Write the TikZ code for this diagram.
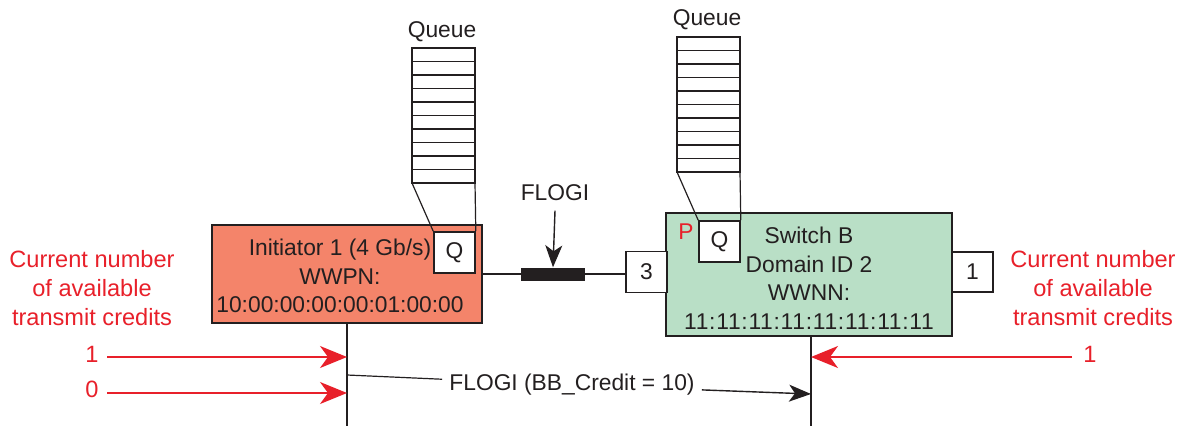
\documentclass[tikz,border=0pt]{standalone}
\usepackage{fontspec}
\setmainfont{Liberation Sans}
\usetikzlibrary{arrows.meta}
\definecolor{salmon}{HTML}{F4846A}
\definecolor{mint}{HTML}{B9DFC6}
\definecolor{cred}{HTML}{E8202A}
\definecolor{ink}{HTML}{231F20}
\begin{document}
\begin{tikzpicture}[x=1pt,y=-1pt,
  font=\fontsize{22.8}{28.5}\selectfont, text=ink,
  bigbox/.style={draw=ink, line width=2.4pt, inner sep=0pt},
  smallbox/.style={draw=ink, line width=1.6pt, fill=white, minimum width=41pt, minimum height=41pt, inner sep=0pt},
  thinline/.style={draw=ink, line width=1.2pt},
  redlbl/.style={text=cred, align=center, font=\fontsize{23.6}{29}\selectfont},
  redarrow/.style={draw=cred, line width=1.6pt, -{Stealth[length=27pt,width=22pt,inset=8pt]}},
  blackarrow/.style={draw=ink, line width=1.4pt, -{Stealth[length=22pt,width=17pt,inset=6pt]}},
  queuecell/.style={draw=ink, line width=1.2pt},
]
\useasboundingbox (0,0) rectangle (1188,426);

% main boxes
\node[bigbox, fill=salmon, minimum width=270pt, minimum height=98pt] (init) at (347,274) {};
\node[bigbox, fill=mint, minimum width=286pt, minimum height=123pt] (sw) at (809,274.5) {};

% texts in boxes
\node[align=center] (inittxt) at (340,276) {Initiator 1 (4 Gb/s)\\WWPN:\\10:00:00:00:00:01:00:00};
\node[align=center] (swtxt) at (809,278) {Switch B\\Domain ID 2\\WWNN:\\{\addfontfeatures{LetterSpace=3.2}11:11:11:11:11:11:11:11}};
\node[text=cred, inner sep=0pt] (P) at (686,232) {P};

% Q boxes and ports
\node[smallbox] (qL) at (454.5,252.5) {Q};
\node[smallbox] (qR) at (719.5,241.5) {Q};
\node[smallbox] (p3) at (646.5,272) {3};
\node[smallbox, minimum height=40pt] (p1) at (972.5,272) {1};

% queues
\draw[queuecell] (412,48) rectangle (475,183);
\foreach \i in {1,...,9} \draw[queuecell] (412,{48+13.5*\i}) -- (475,{48+13.5*\i});
\draw[queuecell] (412,183) -- (qL.north west);
\draw[queuecell] (475,183) -- (qL.north east);
\node (queueL) at (442,32) {Queue};

\draw[queuecell] (677,37) rectangle (740,172);
\foreach \i in {1,...,9} \draw[queuecell] (677,{37+13.5*\i}) -- (740,{37+13.5*\i});
\draw[queuecell] (677,172) -- (qR.north west);
\draw[queuecell] (740,172) -- (qR.north east);
\node (queueR) at (707,20) {Queue};

% link with FLOGI frame
\node[fill=ink, minimum width=64pt, minimum height=13pt, inner sep=0pt] (bar) at (553,274) {};
\draw[thinline] (init.east |- bar.west) -- (bar.west);
\draw[thinline] (bar.east) -- (bar.east -| p3.west);
\node (flogi) at (555,193) {FLOGI};
\draw[blackarrow] (flogi.south) ++(0,6) coordinate (fa) (fa) -- (bar.north);

% lifelines
\coordinate (Lbot) at (347,426);
\coordinate (Rtop) at (811,336);
\coordinate (Rbot) at (811,426);
\draw[thinline] (init.south) -- (Lbot);
\draw[thinline] (Rtop) -- (Rbot);

% red labels
\node[redlbl] (credL) at (92,288) {Current number\\of available\\transmit credits};
\node[redlbl] (credR) at (1093,288) {Current number\\of available\\transmit credits};
\node[redlbl] (oneL) at (92,354) {1};
\node[redlbl] (zeroL) at (92,389) {0};
\node[redlbl] (oneR) at (1090,354) {1};
\coordinate (L1) at (347,357);
\coordinate (L0) at (347,393);
\coordinate (R1) at (811,357);
\draw[redarrow] (107,357) coordinate (a1) (a1) -- (L1);
\draw[redarrow] (107,393) coordinate (a0) (a0) -- (L0);
\draw[redarrow] (1072,357) coordinate (b1) (b1) -- (R1);

% message
\coordinate (M0) at (347,375);
\coordinate (M1) at (811,394);
\node[inner sep=7pt] (msg) at (572,385) {FLOGI (BB\_Credit = 10)};
\draw[thinline] (M0) -- (msg);
\draw[blackarrow] (msg) -- (M1);
\end{tikzpicture}
\end{document}
